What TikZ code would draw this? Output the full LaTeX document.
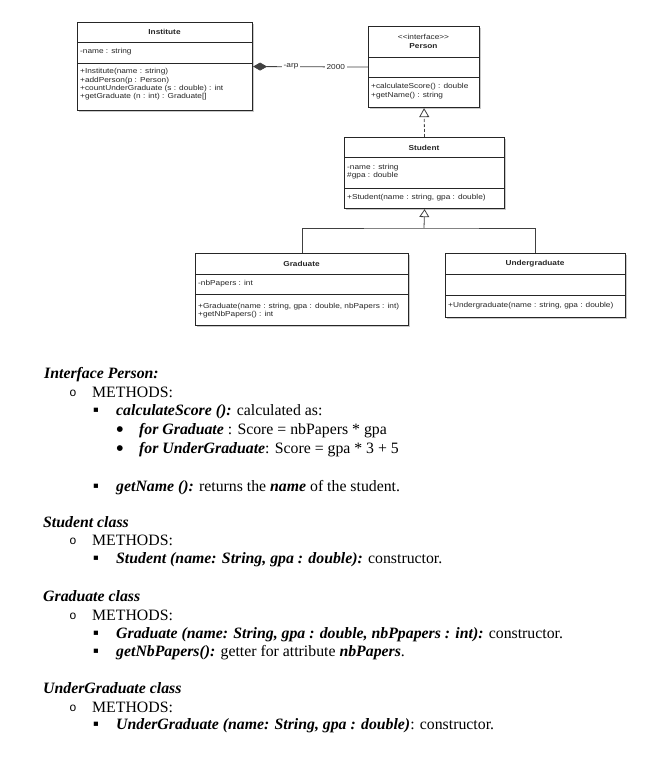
\documentclass[tikz,border=0pt]{standalone}
\usepackage{fontspec}
\setmainfont{Liberation Serif}
\newfontfamily\umlfont[FakeStretch=1.15]{Liberation Sans}
\newfontfamily\monofnt{Liberation Mono}
\newfontfamily\symfnt{DejaVu Sans}
\usetikzlibrary{arrows.meta,shadows}
\begin{document}
\begin{tikzpicture}[x=1pt,y=-1pt,
  umlbox/.style={draw=black!85, line width=1.1pt, fill=white, inner sep=0pt, anchor=north west,
     drop shadow={shadow xshift=1.6pt, shadow yshift=-1.6pt, opacity=0.3, fill=black!70}},
  divider/.style={draw=black!85, line width=0.9pt},
  umltxt/.style={anchor=west, inner sep=0pt, font=\umlfont\fontsize{7.2}{8}\selectfont, text=black!85},
  umltitle/.style={anchor=center, inner sep=0pt, font=\umlfont\bfseries\fontsize{7.2}{8}\selectfont, text=black!85, align=center},
  conn/.style={draw=black!75, line width=0.8pt},
  lbl/.style={fill=white, inner sep=1.5pt, font=\umlfont\fontsize{7.2}{8}\selectfont, text=black!85},
  para/.style={anchor=base west, inner sep=0pt, font=\fontsize{15.8}{18}\selectfont},
  circbul/.style={anchor=center, inner sep=0pt, font=\monofnt\fontsize{12}{14}\selectfont},
  sqbul/.style={anchor=center, inner sep=0pt, font=\symfnt\fontsize{8.5}{10}\selectfont},
  dotbul/.style={anchor=center, inner sep=0pt, font=\symfnt\fontsize{7.5}{9}\selectfont}
]
\useasboundingbox (0,0) rectangle (660,775);

% ---------- Institute ----------
\node[umlbox, minimum width=175pt, minimum height=88pt] (inst) at (77,22) {};
\draw[divider] (77,42) -- (252,42);
\draw[divider] (77,63) -- (252,63);
\node[umltitle] (instT) at (164.5,31.5) {Institute};
\node[umltxt] (instA) at (80,52) {-name : string};
\node[umltxt] (instM1) at (80,72) {+Institute(name : string)};
\node[umltxt] (instM2) at (80,80.3) {+addPerson(p : Person)};
\node[umltxt] (instM3) at (80,88.6) {+countUnderGraduate (s : double) : int};
\node[umltxt] (instM4) at (80,97) {+getGraduate (n : int) : Graduate[]};

% ---------- Person ----------
\node[umlbox, minimum width=111pt, minimum height=81pt] (person) at (368,26) {};
\draw[divider] (368,57) -- (479,57);
\draw[divider] (368,77) -- (479,77);
\node[umltxt, anchor=center] (perS) at (423.5,37) {<<interface>>};
\node[umltitle] (perT) at (423.5,46.5) {Person};
\node[umltxt] (perM1) at (371,87) {+calculateScore() : double};
\node[umltxt] (perM2) at (371,95.5) {+getName() : string};

% ---------- Student ----------
\node[umlbox, minimum width=160pt, minimum height=71pt] (student) at (344,137) {};
\draw[divider] (344,157) -- (504,157);
\draw[divider] (344,188) -- (504,188);
\node[umltitle] (stuT) at (424,147.5) {Student};
\node[umltxt] (stuA1) at (347,168) {-name : string};
\node[umltxt] (stuA2) at (347,175.7) {\#gpa : double};
\node[umltxt] (stuM1) at (347,198) {+Student(name : string, gpa : double)};

% ---------- Graduate ----------
\node[umlbox, minimum width=213pt, minimum height=72pt] (grad) at (195,253) {};
\draw[divider] (195,274) -- (408,274);
\draw[divider] (195,294) -- (408,294);
\node[umltitle] (gradT) at (301.5,264) {Graduate};
\node[umltxt] (gradA) at (198,283.5) {-nbPapers : int};
\node[umltxt] (gradM1) at (198,306.5) {+Graduate(name : string, gpa : double, nbPapers : int)};
\node[umltxt] (gradM2) at (198,314.5) {+getNbPapers() : int};

% ---------- Undergraduate ----------
\node[umlbox, minimum width=180pt, minimum height=64pt] (ugrad) at (445,253) {};
\draw[divider] (445,274) -- (625,274);
\draw[divider] (445,295) -- (625,295);
\node[umltitle] (ugradT) at (535,264) {Undergraduate};
\node[umltxt] (ugradM1) at (448,306) {+Undergraduate(name : string, gpa : double)};

% ---------- Connectors ----------
\draw[conn, {Diamond[length=14pt,width=8pt]}-] (inst.east) -- (person.west)
  node[lbl, pos=0.33] (arp) {-arp}
  node[lbl, pos=0.72] (mult) {2000};
\draw[conn, dash pattern=on 3pt off 2pt, -{Triangle[open,length=9pt,width=10pt]}] (student.north) -- (person.south);
\coordinate (junc) at (424,228);
\draw[conn, -{Triangle[open,length=8pt,width=10pt]}] (junc) -- (student.south);
\draw[conn] (grad.north) |- (junc) -| (ugrad.north);

% ---------- Text ----------
\node[para] (h1) at (44,378) {\bfseries\itshape Interface Person:};
\node[circbul] (b1) at (73,393) {o};
\node[para] (m1) at (92,397) {METHODS:};
\node[sqbul] (s1) at (96,410) {▪};
\node[para] (l1) at (116,415) {\textbf{\textit{calculateScore ():}} calculated as:};
\node[dotbul] (d1) at (120,429.5) {●};
\node[para] (l2) at (139,434) {\textbf{\textit{for Graduate}} : Score = nbPapers * gpa};
\node[dotbul] (d2) at (120,448.5) {●};
\node[para] (l3) at (139,453) {\textbf{\textit{for UnderGraduate}}: Score = gpa * 3 + 5};
\node[sqbul] (s2) at (96,486) {▪};
\node[para] (l4) at (116,491) {\textbf{\textit{getName ():}} returns the \textbf{\textit{name}} of the student.};

\node[para] (h2) at (43,527) {\bfseries\itshape Student class};
\node[circbul] (b2) at (73,541) {o};
\node[para] (m2) at (92,545) {METHODS:};
\node[sqbul] (s3) at (96,558) {▪};
\node[para] (l5) at (116,563) {\textbf{\textit{Student (name: String, gpa : double):}} constructor.};

\node[para] (h3) at (43,601) {\bfseries\itshape Graduate class};
\node[circbul] (b3) at (73,616) {o};
\node[para] (m3) at (92,620) {METHODS:};
\node[sqbul] (s4) at (96,633) {▪};
\node[para] (l6) at (116,638) {\textbf{\textit{Graduate (name: String, gpa : double, nbPpapers : int):}} constructor.};
\node[sqbul] (s5) at (96,651) {▪};
\node[para] (l7) at (116,656) {\textbf{\textit{getNbPapers():}} getter for attribute \textbf{\textit{nbPapers}}.};

\node[para] (h4) at (43,693) {\bfseries\itshape UnderGraduate class};
\node[circbul] (b4) at (73,708) {o};
\node[para] (m4) at (92,712) {METHODS:};
\node[sqbul] (s6) at (96,724) {▪};
\node[para] (l8) at (116,729) {\textbf{\textit{UnderGraduate (name: String, gpa : double)}}: constructor.};
\end{tikzpicture}
\end{document}
